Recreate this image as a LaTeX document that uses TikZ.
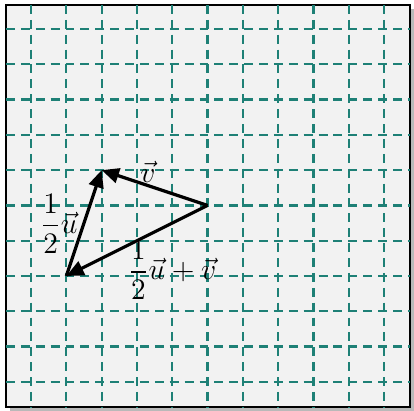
\documentclass[tikz,border=0pt]{standalone}
\usepackage{amsmath}
\usetikzlibrary{arrows.meta}
\definecolor{gridteal}{RGB}{30,128,118}
\definecolor{boxgray}{RGB}{242,242,242}
\begin{document}
\begin{tikzpicture}[
        x=0.5cm, y=0.5cm,
        grade/.style={draw=gridteal, line width=0.9pt, dash pattern=on 3.6pt off 2.4pt},
        vetor/.style={line width=1.3pt, -{Triangle[length=7pt,width=6pt]}},
        rotulo/.style={inner sep=0pt, font=\large},
    ]
    \useasboundingbox (-0.88,-0.82) rectangle (10.85,10.82);
    \fill[gray!55] (-0.60,-0.82) rectangle (10.85,10.57);
    \draw[fill=boxgray, line width=0.9pt] (-0.71,-0.71) rectangle (10.74,10.68);
    \foreach \i in {0,...,10} {
        \draw[grade] (\i,10.68) -- (\i,-0.71);
        \draw[grade] (-0.71,\i) -- (10.74,\i);
    }

    \coordinate (a) at (1, 3);
    \coordinate (b) at (2, 6);
    \coordinate (c) at (5, 5);

    \draw[vetor] (a) -- (b);
    \draw[vetor] (c) -- (b);
    \draw[vetor] (c) -- (a);

    \node[rotulo] (meiou) at (0.79, 4.48) {$\dfrac{1}{2}\vec{u}$};
    \node[rotulo] (v) at (3.31, 5.95) {$\vec{v}$};
    \node[rotulo] (soma) at (4.0, 3.17) {$\dfrac{1}{2}\vec{u}+\vec{v}$};
\end{tikzpicture}
\end{document}
